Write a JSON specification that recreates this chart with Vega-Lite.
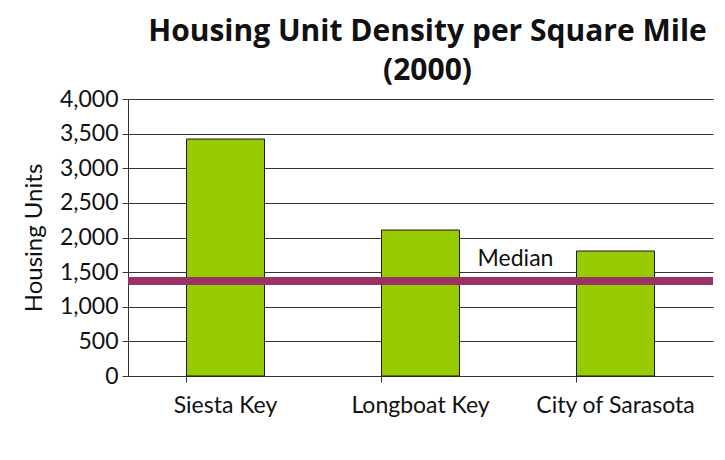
{
  "$schema": "https://vega.github.io/schema/vega-lite/v6.json",
  "width": 585,
  "height": 277,
  "autosize": {"type": "none"},
  "padding": {"left": 128, "top": 99, "right": 12, "bottom": 84},
  "background": "white",
  "title": {
    "text": ["Housing Unit Density per Square Mile", "(2000)"],
    "font": "Open Sans",
    "fontSize": 30,
    "fontWeight": "bold",
    "color": "#111111",
    "anchor": "middle",
    "dx": 7,
    "offset": 2,
    "lineHeight": 39
  },
  "datasets": {
    "bars": [
      {"area": "Siesta Key", "units": 3422},
      {"area": "Longboat Key", "units": 2108},
      {"area": "City of Sarasota", "units": 1805}
    ],
    "median": [
      {"label": "Median", "area": "Longboat Key", "units": 1372}
    ]
  },
  "encoding": {
    "y": {
      "field": "units",
      "type": "quantitative",
      "scale": {"domain": [0, 4000]},
      "axis": {
        "title": "Housing Units",
        "titleFont": "Lato",
        "titleFontSize": 24,
        "titleFontWeight": "normal",
        "titleColor": "#111111",
        "titlePadding": 13,
        "values": [0, 500, 1000, 1500, 2000, 2500, 3000, 3500, 4000],
        "format": ",.0f",
        "labelOverlap": false,
        "labelFont": "Lato",
        "labelFontSize": 23,
        "labelColor": "#111111",
        "labelPadding": 4,
        "tickSize": 6,
        "tickColor": "#333333",
        "domainColor": "#333333",
        "grid": true,
        "gridColor": "#333333",
        "gridWidth": 1.2
      }
    }
  },
  "layer": [
    {
      "data": {"name": "bars"},
      "mark": {"type": "bar", "color": "#99CC00", "stroke": "#1a1a1a", "strokeWidth": 1},
      "encoding": {
        "x": {
          "field": "area",
          "type": "nominal",
          "sort": null,
          "scale": {"paddingInner": 0.6, "paddingOuter": 0.3},
          "axis": {
            "title": null,
            "labelAngle": 0,
            "labelFont": "Lato",
            "labelFontSize": 23,
            "labelColor": "#111111",
            "labelPadding": 12,
            "bandPosition": 0,
            "tickSize": 6,
            "tickColor": "#333333",
            "domainColor": "#333333",
            "grid": false
          }
        }
      }
    },
    {
      "data": {"name": "median"},
      "mark": {"type": "rule", "color": "#993366", "strokeWidth": 8},
      "encoding": {}
    },
    {
      "data": {"name": "median"},
      "mark": {"type": "text", "font": "Lato", "fontSize": 23, "color": "#111111", "dx": 95, "dy": -22},
      "encoding": {
        "x": {"field": "area", "type": "nominal", "sort": null},
        "text": {"field": "label"}
      }
    }
  ],
  "config": {"view": {"stroke": null}}
}
